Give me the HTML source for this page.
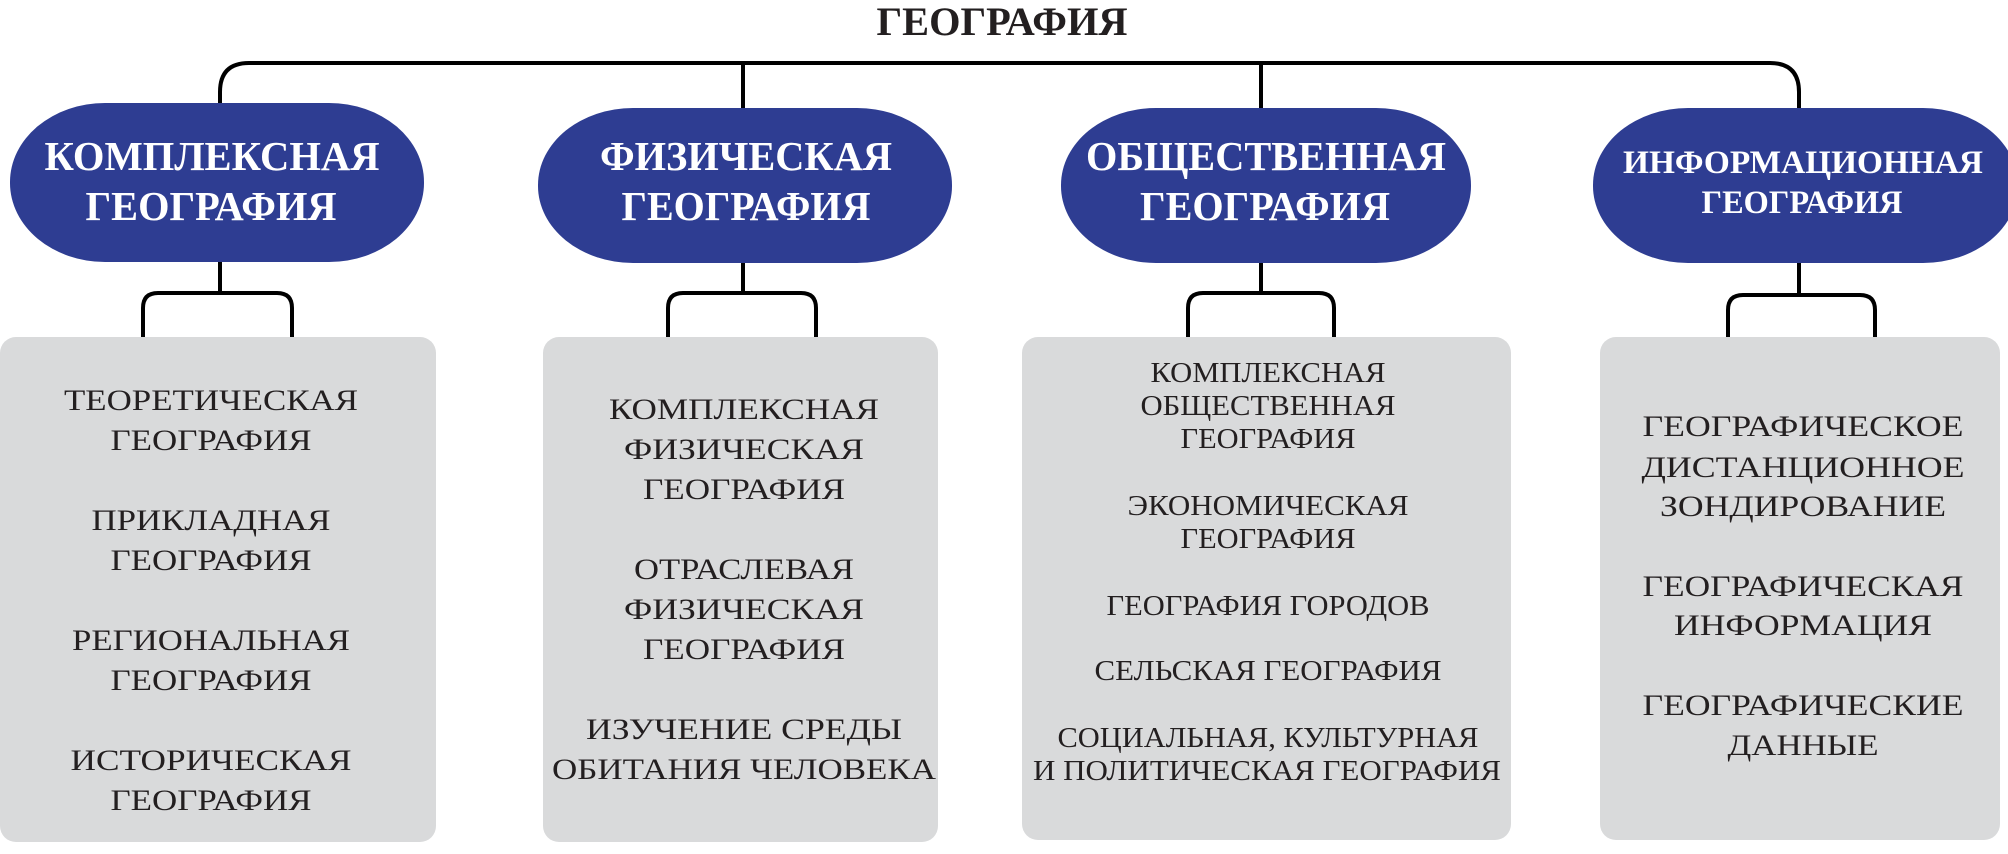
<!DOCTYPE html>
<html><head><meta charset="utf-8"><style>html,body{margin:0;padding:0;background:#fff;}svg{display:block}</style></head>
<body>
<svg width="2008" height="854" viewBox="0 0 2008 854" xmlns="http://www.w3.org/2000/svg">
<g fill="#d9dadb">
<rect x="0" y="337" width="436" height="505" rx="16"/>
<rect x="543" y="337" width="395" height="505" rx="16"/>
<rect x="1022" y="337" width="489" height="503" rx="16"/>
<rect x="1600" y="337" width="400" height="503" rx="16"/>
</g>
<g fill="none" stroke="#000" stroke-width="4">
<path d="M220,105 V92 Q220,63 249,63 H1770 Q1799,63 1799,92 V110"/>
<path d="M743,63 V110 M1261,63 V110"/>
<path d="M220,260 V293 M143,337 V308 Q143,293 158,293 H277 Q292,293 292,308 V337"/>
<path d="M743,260 V293 M668,337 V308 Q668,293 683,293 H801 Q816,293 816,308 V337"/>
<path d="M1261,260 V293 M1188,337 V308 Q1188,293 1203,293 H1319 Q1334,293 1334,308 V337"/>
<path d="M1799,260 V295 M1728,337 V310 Q1728,295 1743,295 H1860 Q1875,295 1875,310 V337"/>
</g>
<g fill="#2e3d92">
<rect x="10" y="103" width="414" height="159" rx="95" ry="79"/>
<rect x="538" y="108" width="414" height="155" rx="95" ry="77"/>
<rect x="1061" y="108" width="410" height="155" rx="95" ry="77"/>
<rect x="1593" y="108" width="425" height="155" rx="95" ry="77"/>
</g>
<g font-family="Liberation Serif, serif" font-weight="bold" text-anchor="middle" lengthAdjust="spacingAndGlyphs">
<text x="1002" y="35" font-size="40" fill="#231f20" textLength="251" lengthAdjust="spacingAndGlyphs">ГЕОГРАФИЯ</text>
<g fill="#fff" font-size="41">
<text x="212" y="170" textLength="335" lengthAdjust="spacingAndGlyphs">КОМПЛЕКСНАЯ</text>
<text x="211" y="220" textLength="251" lengthAdjust="spacingAndGlyphs">ГЕОГРАФИЯ</text>
<text x="746" y="170" textLength="292" lengthAdjust="spacingAndGlyphs">ФИЗИЧЕСКАЯ</text>
<text x="746" y="220" textLength="249" lengthAdjust="spacingAndGlyphs">ГЕОГРАФИЯ</text>
<text x="1266" y="170" textLength="360" lengthAdjust="spacingAndGlyphs">ОБЩЕСТВЕННАЯ</text>
<text x="1265" y="220" textLength="250" lengthAdjust="spacingAndGlyphs">ГЕОГРАФИЯ</text>
</g>
<g fill="#fff" font-size="33">
<text x="1803" y="173" textLength="360" lengthAdjust="spacingAndGlyphs">ИНФОРМАЦИОННАЯ</text>
<text x="1802" y="213" textLength="201" lengthAdjust="spacingAndGlyphs">ГЕОГРАФИЯ</text>
</g>
</g>
<g font-family="Liberation Serif, serif" text-anchor="middle" fill="#231f20" font-size="30">
<text x="211" y="410" textLength="294" lengthAdjust="spacingAndGlyphs">ТЕОРЕТИЧЕСКАЯ</text>
<text x="211" y="450" textLength="201" lengthAdjust="spacingAndGlyphs">ГЕОГРАФИЯ</text>
<text x="211" y="530" textLength="239" lengthAdjust="spacingAndGlyphs">ПРИКЛАДНАЯ</text>
<text x="211" y="570" textLength="201" lengthAdjust="spacingAndGlyphs">ГЕОГРАФИЯ</text>
<text x="211" y="650" textLength="278" lengthAdjust="spacingAndGlyphs">РЕГИОНАЛЬНАЯ</text>
<text x="211" y="690" textLength="201" lengthAdjust="spacingAndGlyphs">ГЕОГРАФИЯ</text>
<text x="211" y="770" textLength="281" lengthAdjust="spacingAndGlyphs">ИСТОРИЧЕСКАЯ</text>
<text x="211" y="810" textLength="201" lengthAdjust="spacingAndGlyphs">ГЕОГРАФИЯ</text>

<text x="744" y="419" textLength="270" lengthAdjust="spacingAndGlyphs">КОМПЛЕКСНАЯ</text>
<text x="744" y="459" textLength="240" lengthAdjust="spacingAndGlyphs">ФИЗИЧЕСКАЯ</text>
<text x="744" y="499" textLength="202" lengthAdjust="spacingAndGlyphs">ГЕОГРАФИЯ</text>
<text x="744" y="579" textLength="220" lengthAdjust="spacingAndGlyphs">ОТРАСЛЕВАЯ</text>
<text x="744" y="619" textLength="240" lengthAdjust="spacingAndGlyphs">ФИЗИЧЕСКАЯ</text>
<text x="744" y="659" textLength="202" lengthAdjust="spacingAndGlyphs">ГЕОГРАФИЯ</text>
<text x="744" y="739" textLength="316" lengthAdjust="spacingAndGlyphs">ИЗУЧЕНИЕ СРЕДЫ</text>
<text x="744" y="779" textLength="384" lengthAdjust="spacingAndGlyphs">ОБИТАНИЯ ЧЕЛОВЕКА</text>

<g font-size="29">
<text x="1268" y="382" textLength="235" lengthAdjust="spacingAndGlyphs">КОМПЛЕКСНАЯ</text>
<text x="1268" y="415" textLength="255" lengthAdjust="spacingAndGlyphs">ОБЩЕСТВЕННАЯ</text>
<text x="1268" y="448" textLength="175" lengthAdjust="spacingAndGlyphs">ГЕОГРАФИЯ</text>
<text x="1268" y="515" textLength="281" lengthAdjust="spacingAndGlyphs">ЭКОНОМИЧЕСКАЯ</text>
<text x="1268" y="548" textLength="175" lengthAdjust="spacingAndGlyphs">ГЕОГРАФИЯ</text>
<text x="1268" y="615" textLength="323" lengthAdjust="spacingAndGlyphs">ГЕОГРАФИЯ ГОРОДОВ</text>
<text x="1268" y="680" textLength="347" lengthAdjust="spacingAndGlyphs">СЕЛЬСКАЯ ГЕОГРАФИЯ</text>
<text x="1268" y="747" textLength="421" lengthAdjust="spacingAndGlyphs">СОЦИАЛЬНАЯ, КУЛЬТУРНАЯ</text>
<text x="1267" y="780" textLength="468" lengthAdjust="spacingAndGlyphs">И ПОЛИТИЧЕСКАЯ ГЕОГРАФИЯ</text>
</g>

<text x="1803" y="436" textLength="321" lengthAdjust="spacingAndGlyphs">ГЕОГРАФИЧЕСКОЕ</text>
<text x="1803" y="477" textLength="323" lengthAdjust="spacingAndGlyphs">ДИСТАНЦИОННОЕ</text>
<text x="1803" y="516" textLength="286" lengthAdjust="spacingAndGlyphs">ЗОНДИРОВАНИЕ</text>
<text x="1803" y="596" textLength="321" lengthAdjust="spacingAndGlyphs">ГЕОГРАФИЧЕСКАЯ</text>
<text x="1803" y="635" textLength="258" lengthAdjust="spacingAndGlyphs">ИНФОРМАЦИЯ</text>
<text x="1803" y="715" textLength="321" lengthAdjust="spacingAndGlyphs">ГЕОГРАФИЧЕСКИЕ</text>
<text x="1803" y="755" textLength="151" lengthAdjust="spacingAndGlyphs">ДАННЫЕ</text>
</g>
</svg>
</body></html>
